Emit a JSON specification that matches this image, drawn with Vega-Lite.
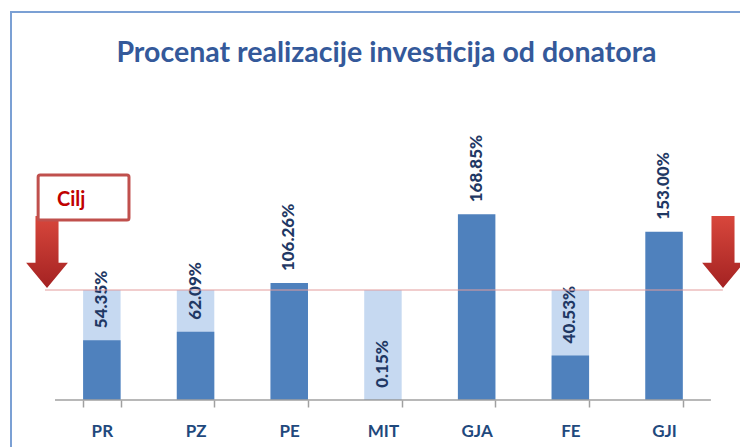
{
  "$schema": "https://vega.github.io/schema/vega-lite/v6.json",
  "width": 731,
  "height": 437,
  "autosize": {"type": "none"},
  "padding": {"left": 11, "top": 12, "right": 0, "bottom": 0},
  "background": "white",
  "title": {
    "text": "Procenat realizacije investicija od donatora",
    "font": "Lato",
    "fontSize": 28.5,
    "fontWeight": "bold",
    "color": "#34599A",
    "anchor": "middle",
    "frame": "group",
    "offset": -78,
    "baseline": "alphabetic",
    "dx": 10
  },
  "config": {"view": {"stroke": "#7BA0D4", "strokeWidth": 2}},
  "data": {
    "values": [
      {"unit": "PR", "target": 1, "value": 0.5435},
      {"unit": "PZ", "target": 1, "value": 0.6209},
      {"unit": "PE", "target": 1, "value": 1.0626},
      {"unit": "MIT", "target": 1, "value": 0.0015},
      {"unit": "GJA", "target": 1, "value": 1.6885},
      {"unit": "FE", "target": 1, "value": 0.4053},
      {"unit": "GJI", "target": 1, "value": 1.53}
    ]
  },
  "encoding": {
    "x": {
      "field": "unit",
      "type": "nominal",
      "sort": null,
      "scale": {"paddingInner": 0.6, "paddingOuter": 0.70075, "align": 0.5491},
      "axis": {
        "title": null,
        "labelAngle": 0,
        "labelFont": "Lato",
        "labelFontSize": 17,
        "labelFontWeight": "bold",
        "labelColor": "#1F497D",
        "domain": false,
        "tickColor": "#A0A0A0",
        "tickWidth": 1.5,
        "tickSize": 7,
        "tickBand": "extent",
        "labelPadding": 16,
        "offset": -49,
        "grid": false
      }
    }
  },
  "layer": [
    {
      "mark": {"type": "bar", "color": "#C6D9F1"},
      "encoding": {
        "y": {"field": "target", "type": "quantitative", "scale": {"domain": [-0.4454, 3.5273], "nice": false, "zero": false}, "axis": null},
        "y2": {"datum": 0}
      }
    },
    {
      "mark": {"type": "bar", "color": "#4F81BD"},
      "encoding": {
        "y": {"field": "value", "type": "quantitative", "axis": null},
        "y2": {"datum": 0}
      }
    },
    {
      "mark": {"type": "text", "angle": 270, "align": "left", "baseline": "middle", "dx": 12, "font": "Lato", "fontSize": 17, "fontWeight": 900, "color": "#1F3864"},
      "encoding": {
        "y": {"field": "value", "type": "quantitative", "axis": null},
        "text": {"field": "value", "type": "quantitative", "format": ".2%"}
      }
    },
    {
      "data": {"values": [{"id": 1}]},
      "mark": {"type": "rule", "color": "#A0A0A0", "strokeWidth": 1.5},
      "encoding": {
        "x": {"datum": "PR", "type": "nominal", "bandPosition": -0.75},
        "x2": {"datum": "GJI", "bandPosition": 1.75},
        "y": {"datum": 0, "type": "quantitative", "axis": null}
      }
    },
    {
      "data": {"values": [{"id": 1}]},
      "mark": {"type": "rule", "color": "#E39C9C", "strokeWidth": 1},
      "encoding": {
        "x": {"datum": "PR", "type": "nominal", "bandPosition": -1.017},
        "x2": {"datum": "GJI", "bandPosition": 2.07},
        "y": {"datum": 1, "type": "quantitative", "axis": null}
      }
    },
    {
      "data": {"values": [{"side": "left"}]},
      "mark": {
        "type": "point",
        "shape": "M -0.32 -1 L 0.32 -1 L 0.32 0.3 L 0.58 0.3 L 0 1 L -0.58 0.3 L -0.32 0.3 Z",
        "size": 5184,
        "filled": true,
        "opacity": 1,
        "fill": {"gradient": "linear", "x1": 0, "y1": 0, "x2": 0, "y2": 1, "stops": [{"offset": 0, "color": "#D8473C"}, {"offset": 1, "color": "#A42222"}]},
        "stroke": null
      },
      "encoding": {
        "x": {"datum": "PR", "type": "nominal", "bandPosition": -0.963},
        "y": {"datum": 1.345, "type": "quantitative", "axis": null}
      }
    },
    {
      "data": {"values": [{"side": "right"}]},
      "mark": {
        "type": "point",
        "shape": "M -0.32 -1 L 0.32 -1 L 0.32 0.3 L 0.58 0.3 L 0 1 L -0.58 0.3 L -0.32 0.3 Z",
        "size": 5184,
        "filled": true,
        "opacity": 1,
        "fill": {"gradient": "linear", "x1": 0, "y1": 0, "x2": 0, "y2": 1, "stops": [{"offset": 0, "color": "#D8473C"}, {"offset": 1, "color": "#A42222"}]},
        "stroke": null
      },
      "encoding": {
        "x": {"datum": "GJI", "type": "nominal", "bandPosition": 2.073},
        "y": {"datum": 1.345, "type": "quantitative", "axis": null}
      }
    },
    {
      "data": {"values": [{"label": "Cilj"}]},
      "mark": {"type": "rect", "fill": "white", "stroke": "#C0504D", "strokeWidth": 3, "cornerRadius": 2},
      "encoding": {
        "x": {"datum": "PR", "type": "nominal", "bandPosition": -1.2},
        "x2": {"datum": "PR", "bandPosition": 1.224},
        "y": {"datum": 2.045, "type": "quantitative", "axis": null},
        "y2": {"datum": 1.636}
      }
    },
    {
      "data": {"values": [{"label": "Cilj"}]},
      "mark": {"type": "text", "align": "left", "baseline": "middle", "font": "Lato", "fontSize": 20, "fontWeight": "bold", "color": "#C00000"},
      "encoding": {
        "x": {"datum": "PR", "type": "nominal", "bandPosition": -0.697},
        "y": {"datum": 1.818, "type": "quantitative", "axis": null},
        "text": {"field": "label", "type": "nominal"}
      }
    }
  ]
}
